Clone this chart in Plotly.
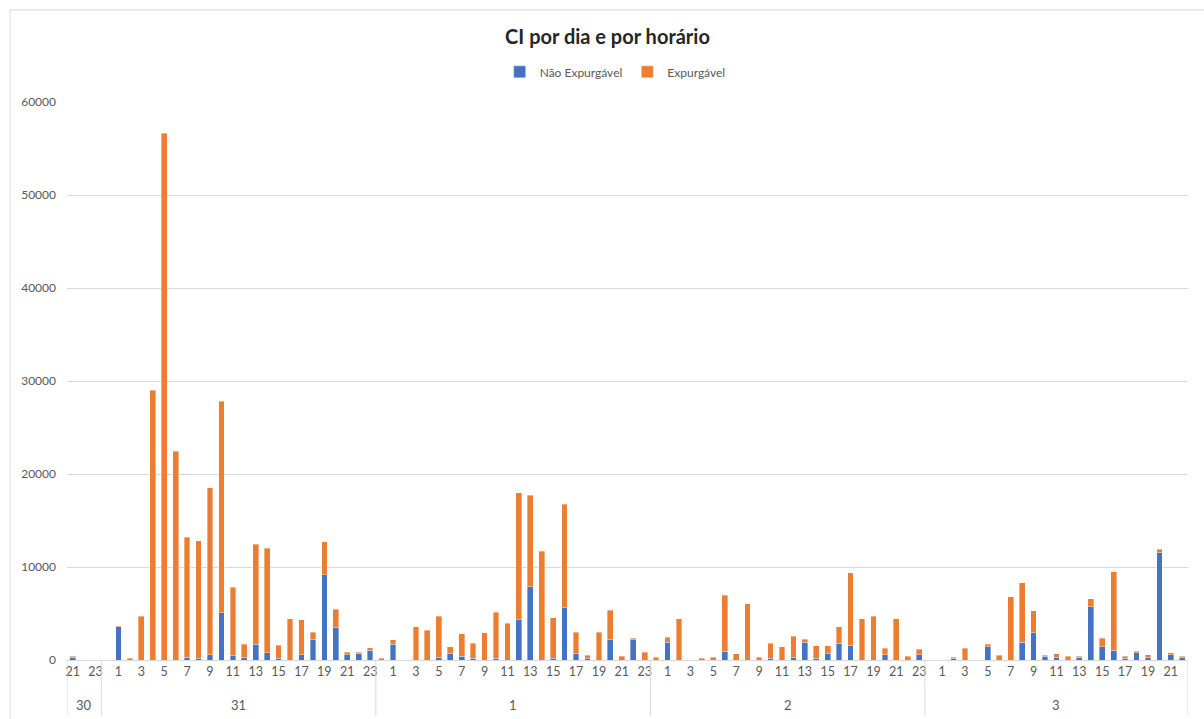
import plotly.graph_objects as go

# ---- data ----
days = ["30", "31", "1", "2", "3"]
hours_30 = [21, 22, 23]
hours_31 = list(range(0, 24))
hours_1 = list(range(0, 24))
hours_2 = list(range(0, 24))
hours_3 = list(range(0, 23))

nao_30 = [300, 0, 0]
exp_30 = [130, 0, 0]

nao_31 = [0, 3550, 0, 0, 0, 0, 0, 300, 200, 550, 5100, 450, 300, 1700, 800, 200, 0, 550, 2200, 9150, 3450, 550, 700, 1070]
exp_31 = [0, 130, 200, 4700, 29000, 56650, 22450, 12900, 12600, 17950, 22750, 7400, 1400, 10770, 11240, 1370, 4450, 3770, 760, 3540, 2010, 270, 120, 250]

nao_1 = [0, 1700, 0, 0, 0, 300, 680, 430, 200, 0, 200, 0, 4350, 7870, 0, 200, 5600, 680, 200, 0, 2200, 0, 2200, 0]
exp_1 = [200, 500, 0, 3600, 3200, 4400, 750, 2400, 1600, 2950, 4950, 3950, 13650, 9870, 11700, 4370, 11140, 2280, 330, 2960, 3150, 430, 120, 820]

nao_2 = [0, 1930, 0, 0, 0, 0, 930, 0, 0, 0, 180, 0, 290, 1930, 180, 680, 1780, 1540, 0, 0, 540, 0, 0, 540]
exp_2 = [320, 500, 4460, 0, 180, 290, 6030, 680, 6070, 290, 1600, 1430, 2250, 280, 1350, 860, 1790, 7850, 4460, 4680, 750, 4460, 430, 640]

nao_3 = [0, 0, 180, 0, 0, 1430, 0, 0, 1930, 2930, 430, 290, 0, 290, 5710, 1430, 1070, 180, 790, 290, 11600, 540, 290]
exp_3 = [0, 0, 110, 1285, 0, 250, 535, 6820, 6390, 2390, 105, 390, 430, 140, 890, 890, 8430, 250, 140, 250, 290, 250, 140]

y_ticks = [0, 10000, 20000, 30000, 40000, 50000, 60000]

# ---- build categories ----
hours_by_day = [hours_30, hours_31, hours_1, hours_2, hours_3]
nao_by_day = [nao_30, nao_31, nao_1, nao_2, nao_3]
exp_by_day = [exp_30, exp_31, exp_1, exp_2, exp_3]

cats, hour_lbl, nao, exp = [], [], [], []
for d, hs, nv, ev in zip(days, hours_by_day, nao_by_day, exp_by_day):
    for h, a, b in zip(hs, nv, ev):
        cats.append(f"{d}-{h}")
        hour_lbl.append(str(h))
        nao.append(a)
        exp.append(b)

n = len(cats)
tickvals = [cats[i] for i in range(0, n, 2)]
ticktext = [hour_lbl[i] for i in range(0, n, 2)]

BLUE = "#4472C4"
ORANGE = "#ED7D31"
FONT = "Lato, 'Liberation Sans', sans-serif"

fig = go.Figure()
fig.add_trace(go.Bar(x=cats, y=nao, name="Não Expurgável",
                     marker=dict(color=BLUE, line=dict(width=0.6, color="rgba(255,255,255,0.6)"))))
fig.add_trace(go.Bar(x=cats, y=exp, name="Expurgável",
                     marker=dict(color=ORANGE, line=dict(width=0.6, color="rgba(255,255,255,0.6)"))))

# group dividers and day labels
shapes = []
annotations = []
start = 0
bounds = [-0.5]
for d, hs in zip(days, hours_by_day):
    end = start + len(hs)
    annotations.append(dict(x=(start + end - 1) / 2, y=-0.081, xref="x", yref="paper",
                            text=d, showarrow=False, yanchor="middle",
                            font=dict(size=13, color="#595959", family=FONT)))
    bounds.append(end - 0.5)
    start = end
for b in bounds:
    shapes.append(dict(type="line", xref="x", yref="paper", x0=b, x1=b, y0=0, y1=-0.1,
                       line=dict(color="#d9d9d9", width=1)))
# outer chart border
shapes.append(dict(type="line", xref="paper", yref="paper", x0=-0.0508, x1=1.1, y0=1.1649, y1=1.1649,
                   line=dict(color="#d9d9d9", width=1)))
shapes.append(dict(type="line", xref="paper", yref="paper", x0=-0.0508, x1=-0.0508, y0=1.1649, y1=-0.2,
                   line=dict(color="#d9d9d9", width=1)))

fig.update_layout(
    width=1204, height=719,
    margin=dict(l=67, r=16, t=102, b=59, autoexpand=False),
    paper_bgcolor="white", plot_bgcolor="white",
    barmode="stack", bargap=0.5,
    font=dict(family=FONT, color="#595959"),
    title=dict(text="<b>CI por dia e por horário</b>", x=607.5 / 1204, xanchor="center",
               y=1 - 37 / 719, yanchor="middle", yref="container",
               font=dict(size=20, color="#262626", family=FONT)),
    legend=dict(orientation="h", x=0.489, xanchor="center", y=1.054, yanchor="middle",
                traceorder="normal", font=dict(size=12, color="#595959", family=FONT),
                itemwidth=30),
    xaxis=dict(type="category", categoryorder="array", categoryarray=cats,
               tickmode="array", tickvals=tickvals, ticktext=ticktext,
               tickfont=dict(size=12.5, color="#595959"), showgrid=False,
               showline=True, linecolor="#d9d9d9", linewidth=1, ticks="",
               range=[-0.5, n - 0.5]),
    yaxis=dict(range=[0, 60000], tickvals=y_ticks, tickformat="d",
               tickfont=dict(size=12, color="#595959"), showgrid=True,
               gridcolor="#d9d9d9", gridwidth=1, zeroline=False, showline=False,
               ticklabelstandoff=10),
    shapes=shapes, annotations=annotations,
)

fig.write_html("out.html", config={"displayModeBar": False},
               post_script="document.body.style.margin='0';")
